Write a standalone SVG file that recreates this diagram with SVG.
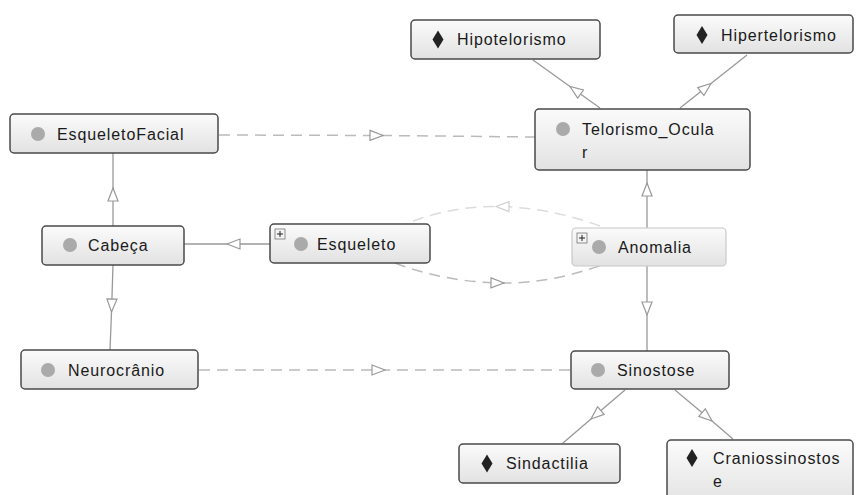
<svg xmlns="http://www.w3.org/2000/svg" width="866" height="495" viewBox="0 0 866 495">
<style>
.n{fill:url(#g);stroke:#4a4a4a;stroke-width:1.5}
.nl{fill:url(#g);stroke:#c8c8c8;stroke-width:1.2}
.t{font-family:"Liberation Sans",Arial,sans-serif;font-size:16px;letter-spacing:0.9px;fill:#1a1a1a}
.c{fill:#aaaaaa}
.d{fill:#222}
.pb{fill:#f4f4f4;stroke:#777;stroke-width:0.8}
.pp{stroke:#222;stroke-width:1}
.e{fill:none;stroke:#999;stroke-width:1.3;marker-mid:url(#tri)}
.ds{fill:none;stroke:#bbb;stroke-width:1.5;stroke-dasharray:11,7;marker-mid:url(#tri)}
.dl{fill:none;stroke:#dcdcdc;stroke-width:1.5;stroke-dasharray:11,7;marker-mid:url(#tril)}
</style>
<defs>
<linearGradient id="g" x1="0" y1="0" x2="0" y2="1">
<stop offset="0" stop-color="#fbfbfb"/>
<stop offset="1" stop-color="#e2e2e2"/>
</linearGradient>
<marker id="tri" viewBox="0 0 15 12" refX="14" refY="6" markerWidth="15" markerHeight="12" markerUnits="userSpaceOnUse" orient="auto">
<path d="M1,1 L14,6 L1,11 Z" fill="#fff" stroke="#999" stroke-width="1.2" stroke-dasharray="none"/>
</marker>
<marker id="tril" viewBox="0 0 15 12" refX="14" refY="6" markerWidth="15" markerHeight="12" markerUnits="userSpaceOnUse" orient="auto">
<path d="M1,1 L14,6 L1,11 Z" fill="#fff" stroke="#cfcfcf" stroke-width="1.2" stroke-dasharray="none"/>
</marker>
</defs>
<rect width="866" height="495" fill="#fff"/>
<g id="connectors">
<path class="e" d="M600,108 L570,86.5 L533,60"/>
<path class="e" d="M680,108 L711,83.5 L747,55"/>
<path class="e" d="M647,228 L647,183 L647,170"/>
<path class="e" d="M647,266 L647,315 L647,351"/>
<path class="e" d="M625,390 L591,419 L563,443"/>
<path class="e" d="M675,390 L712,421 L733,439"/>
<path class="e" d="M270,244 L227,244 L184,244"/>
<path class="e" d="M113,226 L113,188 L113,153"/>
<path class="e" d="M113,265 L111.5,312 L110,350"/>
<path class="ds" d="M219,135 L383,135.5 L535,137"/>
<path class="ds" d="M199,370 L385,370 L571,370"/>
<path class="dl" d="M600,226 Q548.5,207 496,206.5 Q451,206 405,224"/>
<path class="ds" d="M395,263 Q446,282.5 504,283 Q549.5,283.5 602,265"/>
</g>
<g id="Hipotelorismo">
<rect class="n" x="411" y="20" width="189" height="39" rx="4"/>
<path class="d" d="M438,30.5 L443.5,39.5 L438,48.5 L432.5,39.5 Z"/>
<text class="t" x="457" y="45">Hipotelorismo</text>
</g>
<g id="Hipertelorismo">
<rect class="n" x="674" y="15" width="179" height="38" rx="4"/>
<path class="d" d="M702,26 L707.5,35 L702,44 L696.5,35 Z"/>
<text class="t" x="721" y="41">Hipertelorismo</text>
</g>
<g id="Telorismo_Ocular">
<rect class="n" x="535" y="109" width="215" height="61" rx="4"/>
<circle class="c" cx="563" cy="129" r="7"/>
<text class="t" x="582" y="135">Telorismo_Ocula</text>
<text class="t" x="582" y="158">r</text>
</g>
<g id="EsqueletoFacial">
<rect class="n" x="10" y="114" width="208" height="39" rx="4"/>
<circle class="c" cx="38" cy="134" r="7"/>
<text class="t" x="57" y="140">EsqueletoFacial</text>
</g>
<g id="Cabeca">
<rect class="n" x="42" y="226" width="142" height="39" rx="4"/>
<circle class="c" cx="70" cy="245" r="7"/>
<text class="t" x="88" y="251">Cabeça</text>
</g>
<g id="Esqueleto">
<rect class="n" x="270" y="224" width="160" height="39" rx="4"/>
<rect class="pb" x="275" y="229" width="10" height="10"/>
<path class="pp" d="M277,234 H283 M280,231 V237"/>
<circle class="c" cx="301" cy="244" r="7"/>
<text class="t" x="317" y="250">Esqueleto</text>
</g>
<g id="Anomalia">
<rect class="nl" x="572" y="228" width="154" height="38" rx="4"/>
<rect class="pb" x="577" y="233" width="10" height="10"/>
<path class="pp" d="M579,238 H585 M582,235 V241"/>
<circle class="c" cx="599" cy="247" r="7"/>
<text class="t" x="618" y="253">Anomalia</text>
</g>
<g id="Neurocranio">
<rect class="n" x="21" y="350" width="177" height="39" rx="4"/>
<circle class="c" cx="48" cy="370" r="7"/>
<text class="t" x="68" y="376">Neurocrânio</text>
</g>
<g id="Sinostose">
<rect class="n" x="571" y="351" width="158" height="38" rx="4"/>
<circle class="c" cx="598" cy="370" r="7"/>
<text class="t" x="617" y="376">Sinostose</text>
</g>
<g id="Sindactilia">
<rect class="n" x="459" y="444" width="161" height="39" rx="4"/>
<path class="d" d="M487,454.5 L492.5,463.5 L487,472.5 L481.5,463.5 Z"/>
<text class="t" x="506" y="469">Sindactilia</text>
</g>
<g id="Craniossinostose">
<rect class="n" x="667" y="440" width="186" height="66" rx="4"/>
<path class="d" d="M692,449 L697.5,458 L692,467 L686.5,458 Z"/>
<text class="t" x="713" y="464">Craniossinostos</text>
<text class="t" x="713" y="487">e</text>
</g>
</svg>
